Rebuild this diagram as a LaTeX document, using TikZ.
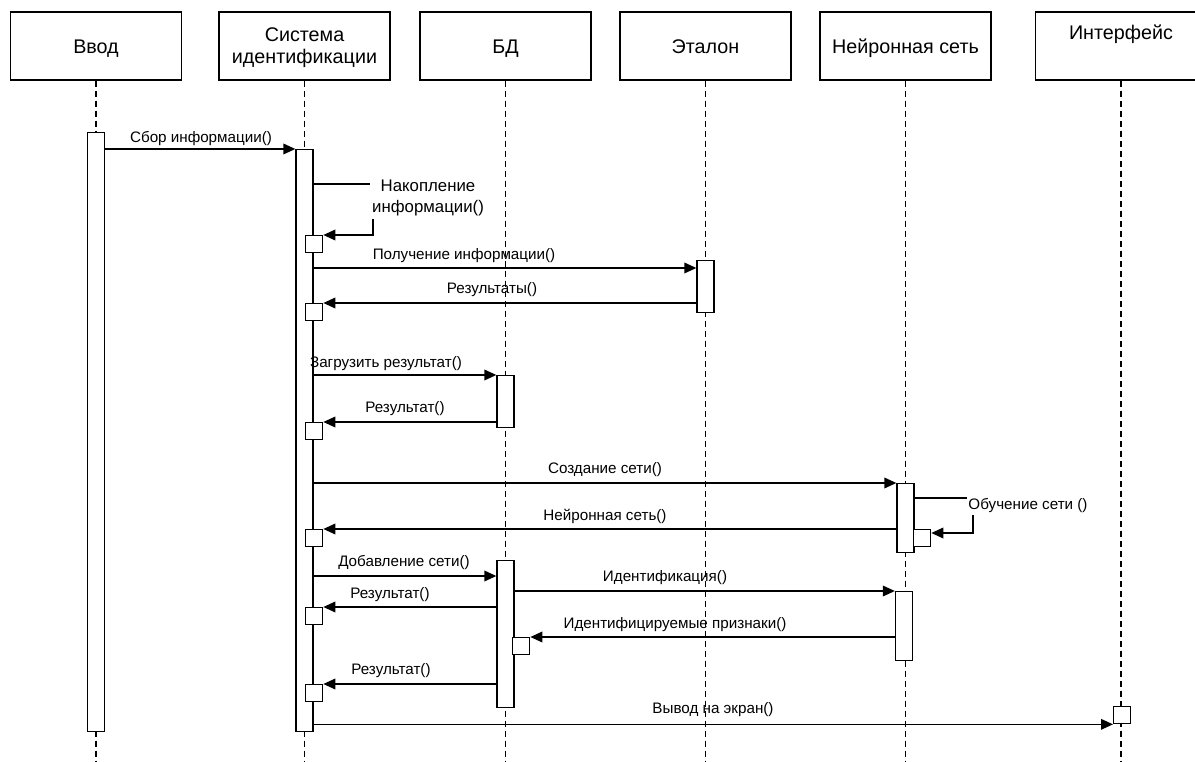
\documentclass[tikz,border=0pt]{standalone}
\usepackage{fontspec}
\setmainfont{Liberation Sans}
\usetikzlibrary{arrows.meta}
\begin{document}
\begin{tikzpicture}[x=0.75pt,y=-0.75pt,line width=1pt,
  head/.style={draw,minimum width=128.25pt,minimum height=51pt,inner sep=0pt},
  headtxt/.style={font=\fontsize{14.8}{17}\selectfont,inner sep=0pt,anchor=base},
  life/.style={dash pattern=on 4.5pt off 3pt,line width=0.9pt},
  bar/.style={draw,fill=white,minimum width=12.75pt,inner sep=0pt,anchor=north},
  sq/.style={draw,fill=white,minimum width=12.75pt,minimum height=12.75pt,inner sep=0pt,anchor=north west},
  msg/.style={-{Triangle[length=9pt,width=8pt]}},
  lbl/.style={font=\fontsize{11.4}{15.5}\selectfont,inner sep=1pt,text height=8.2pt,text depth=0pt},
]
\useasboundingbox (0,0) rectangle (1195,762);
\clip (0,0) rectangle (1195,762);

% headers
\node[head] (hv) at (96,46) {};
\node[head] (hs) at (304.5,46) {};
\node[head] (hb) at (505.5,46) {};
\node[head] (he) at (705.5,46) {};
\node[head] (hn) at (905.5,46) {};
\node[head] (hi) at (1121,46) {};
\node[headtxt] (tv) at (96,54) {Ввод};
\node[headtxt] (ts1) at (304.5,42) {Система};
\node[headtxt] (ts2) at (304.5,64) {идентификации};
\node[headtxt] (tb) at (505.5,54) {БД};
\node[headtxt] (te) at (705.5,54) {Эталон};
\node[headtxt] (tn) at (905.5,54) {Нейронная сеть};
\node[headtxt] (ti) at (1121,40) {Интерфейс};

% lifelines
\foreach \n in {hv,hs,hb,he,hn,hi}
  \draw[life] (\n.south) -- (\n.south |- 0,762);

% activation bars
\node[bar,minimum height=449.25pt] (bv) at (96,132) {};
\node[bar,minimum height=436.5pt] (bs) at (304.5,149) {};
\node[bar,minimum height=39pt] (be) at (705.5,260) {};
\node[bar,minimum height=39pt] (bb1) at (505.5,375) {};
\node[bar,minimum height=51.75pt] (bn1) at (905.5,483) {};
\node[bar,minimum height=110.25pt] (bb2) at (505.5,560) {};
\node[bar,minimum height=51.75pt] (bn2) at (904,591) {};

% squares
\node[sq] (q1) at (305,235) {};
\node[sq] (q2) at (305,303) {};
\node[sq] (q3) at (305,422) {};
\node[sq] (q4) at (305,529) {};
\node[sq] (q5) at (305,607) {};
\node[sq] (q6) at (305,684) {};
\node[sq] (qn) at (913,529) {};
\node[sq] (qb) at (512,637) {};
\node[sq] (qi) at (1113,706) {};

% messages
\draw[msg] (bv.east |- bs.north) -- (bs.north west);
\node[lbl] (l1) at (201,137) {Сбор информации()};

\draw[msg] (bs.east |- 0,184) -- (373,184) |- (q1.north east);
\node[font=\fontsize{12.6}{15.8}\selectfont,fill=white,inner xsep=2pt,inner ysep=2.5pt,align=center] (l2) at (428,198) {Накопление\\информации()};

\draw[msg] (bs.east |- 0,268) -- (be.west |- 0,268);
\node[lbl] (l3) at (464,254) {Получение информации()};

\draw[msg] (be.west |- q2.north) -- (q2.north east);
\node[lbl] (l4) at (492,288) {Результаты()};

\draw[msg] (bs.east |- bb1.north) -- (bb1.north west);
\node[lbl] (l5) at (386,362) {Загрузить результат()};

\draw[msg] (bb1.west |- q3.north) -- (q3.north east);
\node[lbl] (l6) at (405,407) {Результат()};

\draw[msg] (bs.east |- bn1.north) -- (bn1.north west);
\node[lbl] (l7) at (605,468) {Создание сети()};

\draw[msg] (bn1.west |- q4.north) -- (q4.north east);
\node[lbl] (l8) at (605,515) {Нейронная сеть()};

\draw[msg] (bn1.east |- 0,498) -- (973,498) |- ([yshift=-3pt]qn.north east);
\node[lbl,fill=white,inner ysep=4pt] (l9) at (1028,504) {Обучение сети ()};

\draw[msg] (bs.east |- 0,576) -- (bb2.west |- 0,576);
\node[lbl] (l10) at (404,561) {Добавление сети()};

\draw[msg] (bb2.east |- bn2.north) -- (bn2.north west);
\node[lbl] (l11) at (665,576) {Идентификация()};

\draw[msg] (bb2.west |- q5.north) -- (q5.north east);
\node[lbl] (l12) at (390,593) {Результат()};

\draw[msg] (bn2.west |- qb.north) -- (qb.north east);
\node[lbl] (l13) at (675,623) {Идентифицируемые признаки()};

\draw[msg] (bb2.west |- q6.north) -- (q6.north east);
\node[lbl] (l14) at (391,669) {Результат()};

\draw[msg] (bs.east |- qi.south) -- (qi.south west);
\node[lbl] (l15) at (713,708) {Вывод на экран()};
\end{tikzpicture}
\end{document}
